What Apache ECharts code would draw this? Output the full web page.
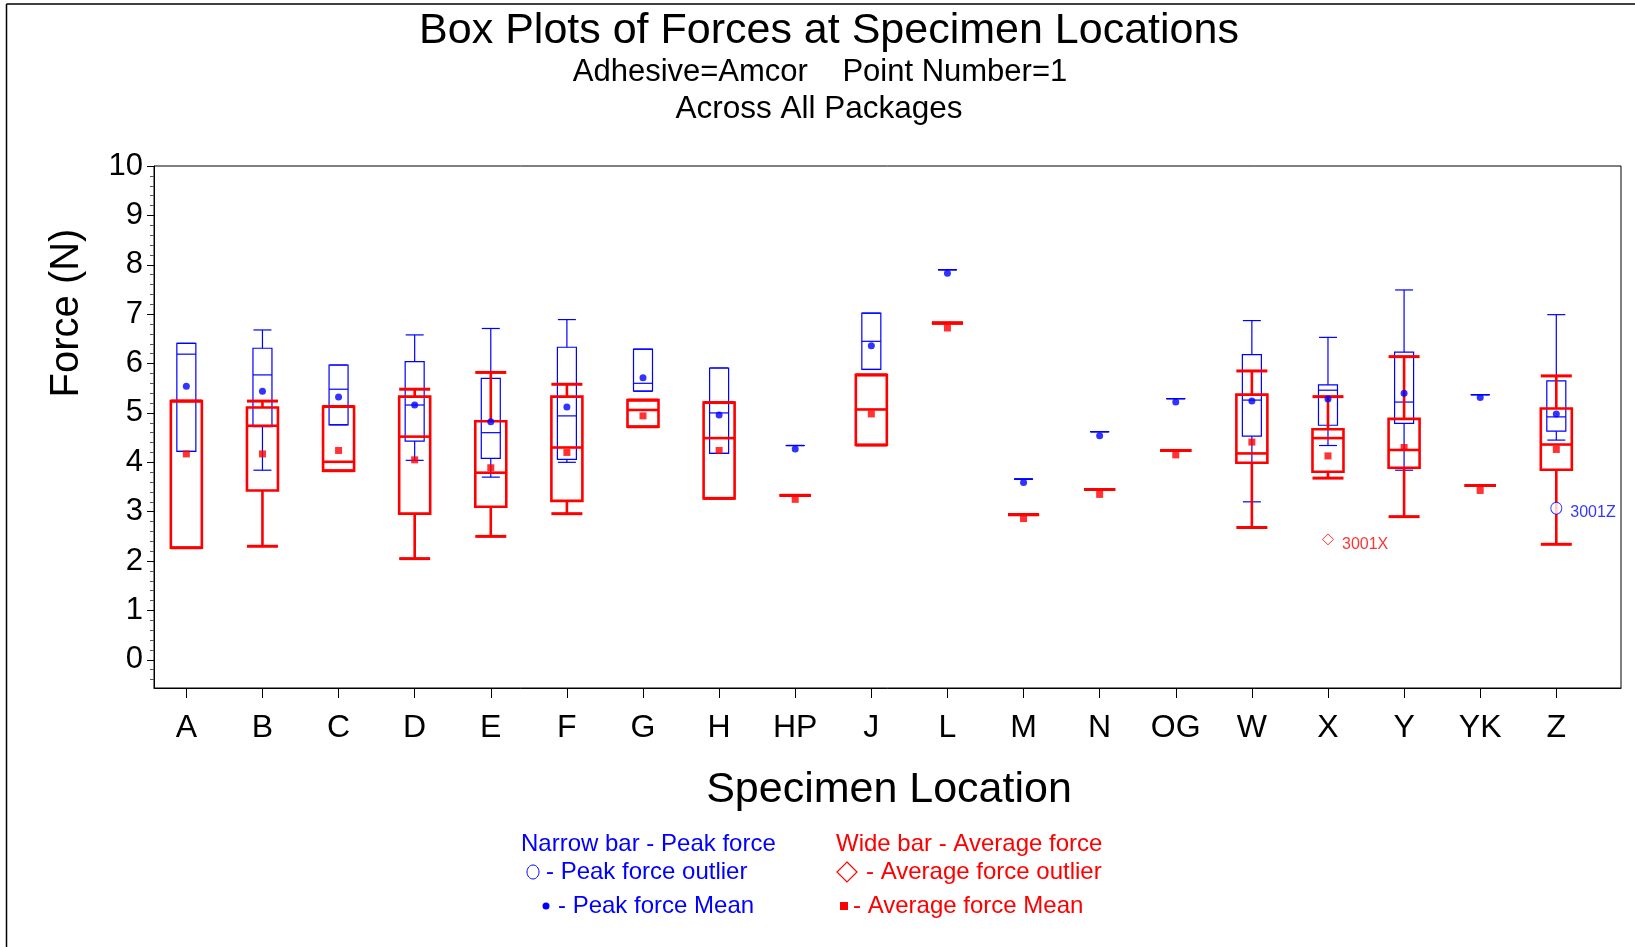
<!DOCTYPE html>
<html>
<head>
<meta charset="utf-8">
<script src="https://cdn.jsdelivr.net/npm/echarts@6/dist/echarts.min.js"></script>
<style>
  html, body { margin: 0; padding: 0; background: #fff; }
  #chart { width: 1635px; height: 947px; }
</style>
</head>
<body>
<div id="chart"></div>
<script>
const categories = ['A', 'B', 'C', 'D', 'E', 'F', 'G', 'H', 'HP', 'J', 'L', 'M', 'N', 'OG', 'W', 'X', 'Y', 'YK', 'Z'];

// narrow blue bars - peak force
const peakMin  = [4.22, 3.84, 4.76, 4.04, 3.70, 4.00, 5.44, 4.18, 4.34, 5.88, 7.90, 3.66, 4.62, 5.29, 3.20, 4.34, 3.84, 5.37, 4.45];
const peakQ1   = [4.22, 4.72, 4.76, 4.43, 4.08, 4.06, 5.44, 4.18, 4.34, 5.88, 7.90, 3.66, 4.62, 5.29, 4.53, 4.75, 4.79, 5.37, 4.63];
const peakMed  = [6.19, 5.77, 5.48, 5.16, 4.60, 4.94, 5.60, 5.00, 4.34, 6.45, 7.90, 3.66, 4.62, 5.29, 5.26, 5.46, 5.22, 5.37, 4.92];
const peakQ3   = [6.41, 6.31, 5.97, 6.04, 5.70, 6.33, 6.29, 5.91, 4.34, 7.02, 7.90, 3.66, 4.62, 5.29, 6.18, 5.57, 6.23, 5.37, 5.65];
const peakMax  = [6.41, 6.68, 5.97, 6.58, 6.71, 6.89, 6.29, 5.91, 4.34, 7.02, 7.90, 3.66, 4.62, 5.29, 6.87, 6.53, 7.49, 5.37, 6.99];
const peakMean = [5.54, 5.44, 5.32, 5.16, 4.82, 5.12, 5.71, 4.96, 4.27, 6.36, 7.83, 3.59, 4.54, 5.22, 5.24, 5.28, 5.40, 5.31, 4.98];

// wide red bars - average force
const avgMin  = [2.27, 2.30, 3.83, 2.05, 2.50, 2.96, 4.72, 3.27, 3.33, 4.35, 6.82, 2.94, 3.45, 4.24, 2.68, 3.68, 2.90, 3.53, 2.34];
const avgQ1   = [2.27, 3.43, 3.83, 2.96, 3.10, 3.22, 4.72, 3.27, 3.33, 4.35, 6.82, 2.94, 3.45, 4.24, 3.99, 3.81, 3.89, 3.53, 3.85];
const avgMed  = [5.24, 4.74, 4.01, 4.52, 3.79, 4.30, 5.06, 4.49, 3.33, 5.07, 6.82, 2.94, 3.45, 4.24, 4.18, 4.49, 4.25, 3.53, 4.36];
const avgQ3   = [5.24, 5.11, 5.13, 5.33, 4.83, 5.33, 5.26, 5.21, 3.33, 5.77, 6.82, 2.94, 3.45, 4.24, 5.37, 4.67, 4.88, 3.53, 5.09];
const avgMax  = [5.24, 5.24, 5.13, 5.48, 5.82, 5.58, 5.26, 5.21, 3.33, 5.77, 6.82, 2.94, 3.45, 4.24, 5.85, 5.33, 6.14, 3.53, 5.75];
const avgMean = [4.17, 4.17, 4.24, 4.05, 3.89, 4.20, 4.94, 4.24, 3.25, 4.98, 6.72, 2.86, 3.35, 4.15, 4.41, 4.13, 4.30, 3.43, 4.26];

const peakOutliers = [{ cat: 'Z', value: 3.07, id: '3001Z' }];
const avgOutliers  = [{ cat: 'X', value: 2.44, id: '3001X' }];

const yTicks = [0, 1, 2, 3, 4, 5, 6, 7, 8, 9, 10];
const yMinorTicks = [];
for (let v = -2; v <= 50; v++) {
  if (v % 5 !== 0) yMinorTicks.push(v / 5);
}

const FONT = 'Liberation Sans, Arial, sans-serif';
const BLUE = '#0000ff';
const RED = '#ff0000';

function boxData(mn, q1, md, q3, mx) {
  return categories.map((c, i) => [i, mn[i], q1[i], md[i], q3[i], mx[i]]);
}

function boxRenderer(boxW, capW, color, lw, capLw) {
  return function (params, api) {
    const i = api.value(0);
    const p = [1, 2, 3, 4, 5].map(k => api.coord([i, api.value(k)]));
    const cx = p[0][0];
    const yMin = p[0][1], yQ1 = p[1][1], yMed = p[2][1], yQ3 = p[3][1], yMax = p[4][1];
    const st = { stroke: color, lineWidth: lw, fill: null };
    const capSt = { stroke: color, lineWidth: capLw, fill: null };
    const ln = (x1, y1, x2, y2, s) => ({ type: 'line', shape: { x1, y1, x2, y2 }, style: s });
    return {
      type: 'group',
      children: [
        ln(cx, yMin, cx, yQ1, st),
        ln(cx, yQ3, cx, yMax, st),
        ln(cx - capW / 2, yMin, cx + capW / 2, yMin, capSt),
        ln(cx - capW / 2, yMax, cx + capW / 2, yMax, capSt),
        { type: 'rect', shape: { x: cx - boxW / 2, y: yQ3, width: boxW, height: yQ1 - yQ3 }, style: st },
        ln(cx - boxW / 2, yMed, cx + boxW / 2, yMed, st)
      ]
    };
  };
}

const chart = echarts.init(document.getElementById('chart'), null, { renderer: 'canvas' });

const option = {
  backgroundColor: '#fff',
  animation: false,
  textStyle: { fontFamily: FONT },
  grid: {
    left: 154, right: 14, top: 166, bottom: 259,
    show: true, borderColor: '#000', borderWidth: 1, backgroundColor: 'transparent'
  },
  xAxis: {
    type: 'value',
    min: -0.425,
    max: 18.85,
    splitLine: { show: false },
    axisLine: { show: true, onZero: false, lineStyle: { color: '#000', width: 1 } },
    axisTick: { show: true, length: 10, lineStyle: { color: '#000' }, customValues: categories.map((c, i) => i) },
    axisLabel: {
      show: true, margin: 24, color: '#000', fontSize: 32, fontFamily: FONT,
      customValues: categories.map((c, i) => i),
      formatter: v => categories[Math.round(v)] || ''
    }
  },
  yAxis: [{
    type: 'value',
    min: -0.57,
    max: 10,
    splitLine: { show: false },
    axisLine: { show: true, onZero: false, lineStyle: { color: '#000', width: 1 } },
    axisTick: { show: true, length: 7, lineStyle: { color: '#000' }, customValues: yTicks },
    axisLabel: { show: true, margin: 11, padding: [5, 0, 0, 0], color: '#000', fontSize: 31, fontFamily: FONT, customValues: yTicks }
  }, {
    type: 'value',
    min: -0.57,
    max: 10,
    position: 'left',
    splitLine: { show: false },
    axisLine: { show: false, onZero: false },
    axisTick: { show: true, length: 4, lineStyle: { color: '#555' }, customValues: yMinorTicks },
    axisLabel: { show: false }
  }],
  series: [
    {
      name: 'Peak force',
      type: 'custom',
      z: 2,
      renderItem: boxRenderer(19, 18, BLUE, 1.2, 1.2),
      encode: { x: 0, y: [1, 2, 3, 4, 5] },
      data: boxData(peakMin, peakQ1, peakMed, peakQ3, peakMax)
    },
    {
      name: 'Average force',
      type: 'custom',
      z: 3,
      renderItem: boxRenderer(31, 31, RED, 2.6, 3),
      encode: { x: 0, y: [1, 2, 3, 4, 5] },
      data: boxData(avgMin, avgQ1, avgMed, avgQ3, avgMax)
    },
    {
      name: 'Peak force Mean',
      type: 'scatter',
      z: 5,
      symbol: 'circle',
      symbolSize: 7,
      itemStyle: { color: BLUE },
      data: peakMean.map((v, i) => [i, v])
    },
    {
      name: 'Average force Mean',
      type: 'scatter',
      z: 4,
      symbol: 'rect',
      symbolSize: 7,
      itemStyle: { color: RED },
      data: avgMean.map((v, i) => [i, v])
    },
    {
      name: 'Peak force outlier',
      type: 'scatter',
      z: 5,
      symbol: 'circle',
      symbolSize: [11, 12],
      itemStyle: { color: '#fff', borderColor: BLUE, borderWidth: 1 },
      label: {
        show: true, position: 'right', distance: 8, offset: [0, 4],
        color: BLUE, fontSize: 16, fontFamily: FONT,
        formatter: p => p.data[2]
      },
      data: peakOutliers.map(o => [categories.indexOf(o.cat), o.value, o.id])
    },
    {
      name: 'Average force outlier',
      type: 'scatter',
      z: 5,
      symbol: 'diamond',
      symbolSize: [11, 11],
      itemStyle: { color: '#fff', borderColor: RED, borderWidth: 1 },
      label: {
        show: true, position: 'right', distance: 8, offset: [0, 5],
        color: RED, fontSize: 16, fontFamily: FONT,
        formatter: p => p.data[2]
      },
      data: avgOutliers.map(o => [categories.indexOf(o.cat), o.value, o.id])
    }
  ],
  graphic: [
    // page frame
    { type: 'line', shape: { x1: 6.5, y1: 4, x2: 1635, y2: 4 }, style: { stroke: '#000', lineWidth: 1.5 } },
    { type: 'line', shape: { x1: 6.5, y1: 4, x2: 6.5, y2: 947 }, style: { stroke: '#000', lineWidth: 1.5 } },
    // titles
    { type: 'text', x: 829, y: 31, style: { text: 'Box Plots of Forces at Specimen Locations', font: '43px ' + FONT, fill: '#000', align: 'center', verticalAlign: 'middle' } },
    { type: 'text', x: 820, y: 72, style: { text: 'Adhesive=Amcor    Point Number=1', font: '31px ' + FONT, fill: '#000', align: 'center', verticalAlign: 'middle' } },
    { type: 'text', x: 819, y: 109, style: { text: 'Across All Packages', font: '31.5px ' + FONT, fill: '#000', align: 'center', verticalAlign: 'middle' } },
    // axis titles
    { type: 'text', x: 67, y: 313, rotation: Math.PI / 2, style: { text: 'Force (N)', font: '40px ' + FONT, fill: '#000', align: 'center', verticalAlign: 'middle' } },
    { type: 'text', x: 889, y: 790, style: { text: 'Specimen Location', font: '43px ' + FONT, fill: '#000', align: 'center', verticalAlign: 'middle' } },
    // legend notes
    { type: 'text', x: 521, y: 844, style: { text: 'Narrow bar - Peak force', font: '24px ' + FONT, fill: BLUE, verticalAlign: 'middle' } },
    { type: 'ellipse', shape: { cx: 533, cy: 872, rx: 6, ry: 7 }, style: { stroke: BLUE, lineWidth: 1, fill: null } },
    { type: 'text', x: 546, y: 872, style: { text: '- Peak force outlier', font: '24px ' + FONT, fill: BLUE, verticalAlign: 'middle' } },
    { type: 'circle', shape: { cx: 546, cy: 906, r: 3.5 }, style: { fill: BLUE } },
    { type: 'text', x: 558, y: 906, style: { text: '- Peak force Mean', font: '24px ' + FONT, fill: BLUE, verticalAlign: 'middle' } },
    { type: 'text', x: 836, y: 844, style: { text: 'Wide bar - Average force', font: '24px ' + FONT, fill: RED, verticalAlign: 'middle' } },
    { type: 'polygon', shape: { points: [[847, 862], [857, 872], [847, 882], [837, 872]] }, style: { stroke: RED, lineWidth: 1.2, fill: null } },
    { type: 'text', x: 866, y: 872, style: { text: '- Average force outlier', font: '24px ' + FONT, fill: RED, verticalAlign: 'middle' } },
    { type: 'rect', shape: { x: 840, y: 902, width: 8, height: 8 }, style: { fill: RED } },
    { type: 'text', x: 853, y: 906, style: { text: '- Average force Mean', font: '24px ' + FONT, fill: RED, verticalAlign: 'middle' } }
  ]
};

chart.setOption(option);
window.addEventListener('resize', chart.resize);
</script>
</body>
</html>
